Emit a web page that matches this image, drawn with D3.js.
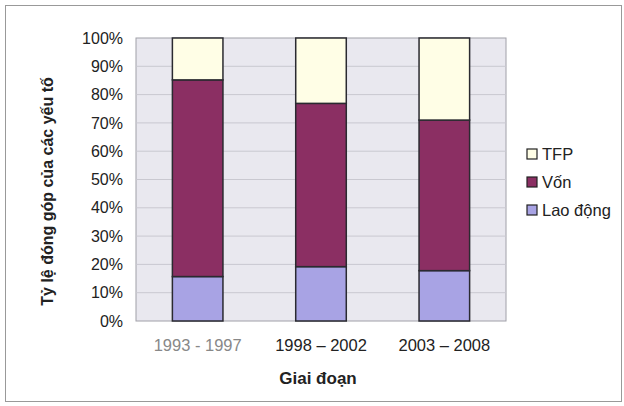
<!DOCTYPE html>
<html><head><meta charset="utf-8">
<script src="https://cdn.jsdelivr.net/npm/d3@7"></script>
<style>body{margin:0;background:#fff}svg{display:block}</style>
</head><body>
<svg id="c" width="624" height="406"></svg>
<script>
const periods = ["1993 - 1997", "1998 – 2002", "2003 – 2008"];
const seriesNames = ["Lao động", "Vốn", "TFP"];
const laoDong = [15.7, 19.2, 17.8];
const von = [69.5, 57.7, 53.2];
const tfp = [14.8, 23.1, 29.0];
const yTicks = [0,10,20,30,40,50,60,70,80,90,100];
const colors = {"Lao động":"#a8a3e4","Vốn":"#8b2f63","TFP":"#fffee6"};

const rows = periods.map((p,i)=>({period:p,"Lao động":laoDong[i],"Vốn":von[i],"TFP":tfp[i]}));
const stack = d3.stack().keys(seriesNames)(rows);

const svg = d3.select("#c");
const font = "Arial, 'Liberation Sans', sans-serif";
svg.append("rect").attr("x",5.5).attr("y",5.5).attr("width",616).attr("height",396)
  .attr("fill","#fff").attr("stroke","#999").attr("stroke-width",1);

const m = {l:136,r:506,t:38,b:321};
const x = d3.scaleBand().domain(periods).range([m.l,m.r]).paddingInner(0.59).paddingOuter(0.295);
const y = d3.scaleLinear().domain([0,100]).range([m.b,m.t]);

svg.append("rect").attr("x",m.l).attr("y",m.t).attr("width",m.r-m.l).attr("height",m.b-m.t)
  .attr("fill","#e9e8ef").attr("stroke","#a0a0a8");

svg.append("g").selectAll("line").data(yTicks.slice(1,-1)).join("line")
  .attr("x1",m.l).attr("x2",m.r).attr("y1",d=>y(d)).attr("y2",d=>y(d))
  .attr("stroke","#c9c8d0").attr("stroke-width",1);

const yAxis = svg.append("g").attr("transform",`translate(${m.l},0)`)
  .call(d3.axisLeft(y).tickValues(yTicks).tickFormat(d=>d+"%").tickSize(0).tickPadding(13));
yAxis.select(".domain").remove();
yAxis.selectAll("text").attr("font-family",font).attr("font-size",16).attr("fill","#222");

svg.append("g").selectAll("g").data(stack).join("g")
  .attr("fill",d=>colors[d.key])
  .selectAll("rect").data(d=>d).join("rect")
  .attr("x",d=>x(d.data.period)).attr("width",x.bandwidth())
  .attr("y",d=>y(d[1])).attr("height",d=>y(d[0])-y(d[1]))
  .attr("stroke","#2a2a30").attr("stroke-width",1.5);

const xAxis = svg.append("g").attr("transform",`translate(0,${m.b})`)
  .call(d3.axisBottom(x).tickSize(0).tickPadding(18));
xAxis.select(".domain").remove();
xAxis.selectAll("text").attr("font-family",font).attr("font-size",16.5)
  .attr("fill",(d,i)=>i===0?"#888":"#222");

svg.append("text").attr("x",318).attr("y",384).attr("text-anchor","middle")
  .attr("font-family",font).attr("font-size",17).attr("font-weight","bold").attr("fill","#222")
  .text("Giai đoạn");

svg.append("text").attr("transform",`translate(53,${(m.t+m.b)/2+12}) rotate(-90)`)
  .attr("text-anchor","middle").attr("font-family",font).attr("font-size",16)
  .attr("font-weight","bold").attr("fill","#222").text("Tỷ lệ đóng góp của các yếu tố");

const legendItems = ["TFP","Vốn","Lao động"];
const lg = svg.append("g").selectAll("g").data(legendItems).join("g")
  .attr("transform",(d,i)=>`translate(527,${154+i*28})`);
lg.append("rect").attr("x",0).attr("y",-5).attr("width",10).attr("height",10)
  .attr("fill",d=>colors[d]).attr("stroke","#222").attr("stroke-width",1.2);
lg.append("text").attr("x",15).attr("y",6).attr("font-family",font).attr("font-size",16.5)
  .attr("fill","#222").text(d=>d);
</script>
</body></html>
